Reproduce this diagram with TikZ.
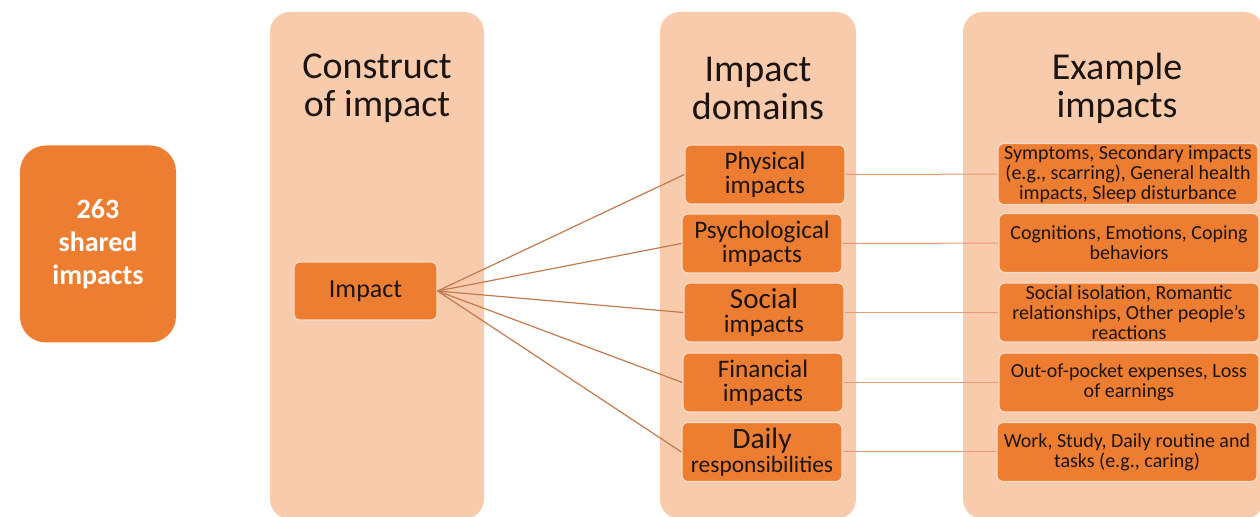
\documentclass[tikz,border=0pt]{standalone}
\usepackage{fontspec}
\setmainfont{Carlito}
\usetikzlibrary{positioning}
\definecolor{darkorange}{HTML}{ED7D31}
\definecolor{peach}{HTML}{F8CBAD}
\definecolor{linkbrown}{HTML}{C47A4C}
\definecolor{linklight}{HTML}{E99A6E}
\definecolor{textdark}{HTML}{1C1410}
\tikzset{
  column/.style={fill=peach, draw=none, rounded corners=10pt},
  coltitle/.style={font=\fontsize{19}{19}\selectfont, text=textdark, align=center},
  impactbox/.style={fill=darkorange, draw=peach!70!white, line width=0.6pt,
    rounded corners=3pt, text=textdark, align=center, inner sep=1pt},
  domainbox/.style={impactbox, minimum width=80pt, minimum height=29.5pt,
    font=\fontsize{12.6}{12.2}\selectfont},
  examplebox/.style={impactbox, minimum width=130pt, minimum height=29.5pt,
    font=\fontsize{10}{10}\selectfont},
  fanline/.style={draw=linkbrown, line width=0.6pt},
  rowline/.style={draw=linklight, line width=0.5pt}
}
\begin{document}
\begin{tikzpicture}[x=0.5pt, y=-0.5pt]

\useasboundingbox (0,0) rectangle (1260,517);

%% background columns
\fill[column] (270,12) rectangle (484,519);
\fill[column] (660,12) rectangle (856,519);
\fill[column] (963,12) rectangle (1264,519);

\node[coltitle] (titleA) at (377,88) {Construct\\of impact};
\node[coltitle] (titleB) at (758,88) {Impact\\domains};
\node[coltitle] (titleC) at (1117,88) {Example\\impacts};

%% left block
\node[fill=darkorange, rounded corners=13pt, minimum width=78pt, minimum height=98.5pt,
  text=white, align=center, font=\fontsize{14}{16.5}\selectfont\bfseries]
  (shared) at (98,244) {263\\shared\\impacts};

\node[impactbox, minimum width=71.5pt, minimum height=29pt,
  font=\fontsize{13}{12}\selectfont] (impact) at (365.5,291) {Impact};

%% domains
\node[domainbox] (physical) at (765,174.5) {Physical\\impacts};
\node[domainbox] (psych) at (762,243.5) {Psychological\\impacts};
\node[domainbox] (social) at (764,312.5) {{\fontsize{14.5}{13}\selectfont Social}\\impacts};
\node[domainbox] (financial) at (763,382.5) {Financial\\impacts};
\node[domainbox] (daily) at (762,452)
  {{\fontsize{14.8}{13}\selectfont Daily}\\{\fontsize{11.7}{12}\selectfont responsibilities}};

%% examples
\node[examplebox] (exphys) at (1128,174)
  {Symptoms, Secondary impacts\\(e.g., scarring), General health\\impacts, Sleep disturbance};
\node[examplebox] (expsych) at (1129,243) {Cognitions, Emotions, Coping\\behaviors};
\node[examplebox] (exsocial) at (1129,312.5)
  {Social isolation, Romantic\\relationships, Other people’s\\reactions};
\node[examplebox] (exfin) at (1129,382.5) {Out-of-pocket expenses, Loss\\of earnings};
\node[examplebox] (exdaily) at (1127,452) {Work, Study, Daily routine and\\tasks (e.g., caring)};

%% connectors
\foreach \d in {physical,psych,social,financial,daily}
  \draw[fanline] (impact.east) -- (\d.west);

\draw[rowline] (physical) -- (exphys);
\draw[rowline] (psych) -- (expsych);
\draw[rowline] (social) -- (exsocial);
\draw[rowline] (financial) -- (exfin);
\draw[rowline] (daily) -- (exdaily);

\end{tikzpicture}
\end{document}
